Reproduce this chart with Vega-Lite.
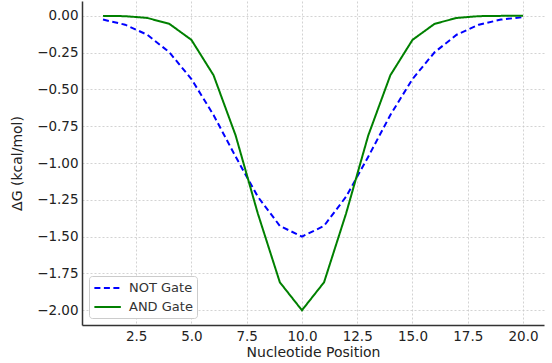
{
  "$schema": "https://vega.github.io/schema/vega-lite/v6.json",
  "width": 462,
  "height": 324,
  "autosize": {"type": "none"},
  "padding": {"left": 82, "top": 1, "right": 8, "bottom": 38},
  "background": "white",
  "config": {
    "view": {"stroke": null},
    "font": "DejaVu Sans",
    "axis": {
      "labelFont": "DejaVu Sans",
      "titleFont": "DejaVu Sans",
      "labelColor": "#222222",
      "titleColor": "#222222",
      "titleFontWeight": "normal",
      "domainColor": "#333333",
      "domainWidth": 1.5,
      "ticks": false,
      "gridColor": "#c8c8c8",
      "gridDash": [2, 2],
      "gridWidth": 0.8
    },
    "legend": {
      "title": null,
      "orient": "bottom-left",
      "offset": 7,
      "fillColor": "white",
      "strokeColor": "#cccccc",
      "cornerRadius": 3,
      "padding": 4,
      "rowPadding": 4,
      "symbolType": "M-1,0H3",
      "symbolSize": 175,
      "symbolStrokeWidth": 2,
      "labelFontSize": 13,
      "labelFont": "DejaVu Sans",
      "labelColor": "#333333",
      "labelOffset": 20
    }
  },
  "data": {
    "values": [
      {"pos": 1, "dg": -0.026, "gate": "NOT Gate"},
      {"pos": 2, "dg": -0.061, "gate": "NOT Gate"},
      {"pos": 3, "dg": -0.129, "gate": "NOT Gate"},
      {"pos": 4, "dg": -0.248, "gate": "NOT Gate"},
      {"pos": 5, "dg": -0.43, "gate": "NOT Gate"},
      {"pos": 6, "dg": -0.674, "gate": "NOT Gate"},
      {"pos": 7, "dg": -0.957, "gate": "NOT Gate"},
      {"pos": 8, "dg": -1.228, "gate": "NOT Gate"},
      {"pos": 9, "dg": -1.427, "gate": "NOT Gate"},
      {"pos": 10, "dg": -1.5, "gate": "NOT Gate"},
      {"pos": 11, "dg": -1.427, "gate": "NOT Gate"},
      {"pos": 12, "dg": -1.228, "gate": "NOT Gate"},
      {"pos": 13, "dg": -0.957, "gate": "NOT Gate"},
      {"pos": 14, "dg": -0.674, "gate": "NOT Gate"},
      {"pos": 15, "dg": -0.43, "gate": "NOT Gate"},
      {"pos": 16, "dg": -0.248, "gate": "NOT Gate"},
      {"pos": 17, "dg": -0.129, "gate": "NOT Gate"},
      {"pos": 18, "dg": -0.061, "gate": "NOT Gate"},
      {"pos": 19, "dg": -0.026, "gate": "NOT Gate"},
      {"pos": 20, "dg": -0.01, "gate": "NOT Gate"},
      {"pos": 1, "dg": -0.001, "gate": "AND Gate"},
      {"pos": 2, "dg": -0.003, "gate": "AND Gate"},
      {"pos": 3, "dg": -0.015, "gate": "AND Gate"},
      {"pos": 4, "dg": -0.055, "gate": "AND Gate"},
      {"pos": 5, "dg": -0.164, "gate": "AND Gate"},
      {"pos": 6, "dg": -0.404, "gate": "AND Gate"},
      {"pos": 7, "dg": -0.813, "gate": "AND Gate"},
      {"pos": 8, "dg": -1.341, "gate": "AND Gate"},
      {"pos": 9, "dg": -1.81, "gate": "AND Gate"},
      {"pos": 10, "dg": -2.0, "gate": "AND Gate"},
      {"pos": 11, "dg": -1.81, "gate": "AND Gate"},
      {"pos": 12, "dg": -1.341, "gate": "AND Gate"},
      {"pos": 13, "dg": -0.813, "gate": "AND Gate"},
      {"pos": 14, "dg": -0.404, "gate": "AND Gate"},
      {"pos": 15, "dg": -0.164, "gate": "AND Gate"},
      {"pos": 16, "dg": -0.055, "gate": "AND Gate"},
      {"pos": 17, "dg": -0.015, "gate": "AND Gate"},
      {"pos": 18, "dg": -0.003, "gate": "AND Gate"},
      {"pos": 19, "dg": -0.001, "gate": "AND Gate"},
      {"pos": 20, "dg": 0.0, "gate": "AND Gate"}
    ]
  },
  "mark": {"type": "line", "strokeWidth": 2, "clip": true},
  "encoding": {
    "x": {
      "field": "pos",
      "type": "quantitative",
      "scale": {"domain": [0.05, 20.95], "nice": false, "zero": false},
      "axis": {
        "title": "Nucleotide Position",
        "values": [2.5, 5, 7.5, 10, 12.5, 15, 17.5, 20],
        "format": ".1f",
        "labelFontSize": 13.5,
        "titleFontSize": 14,
        "labelPadding": 4,
        "titlePadding": 3,
        "grid": true
      }
    },
    "y": {
      "field": "dg",
      "type": "quantitative",
      "scale": {"domain": [-2.1, 0.1], "nice": false, "zero": false},
      "axis": {
        "title": "ΔG (kcal/mol)",
        "values": [-2, -1.75, -1.5, -1.25, -1, -0.75, -0.5, -0.25, 0],
        "labelExpr": "replace(format(datum.value, '.2f'), '-', '−')",
        "labelFontSize": 13.5,
        "titleFontSize": 14,
        "labelPadding": 4,
        "titlePadding": 12,
        "grid": true
      }
    },
    "color": {
      "field": "gate",
      "type": "nominal",
      "scale": {"domain": ["NOT Gate", "AND Gate"], "range": ["#0000ff", "#008000"]}
    },
    "strokeDash": {
      "field": "gate",
      "type": "nominal",
      "scale": {"domain": ["NOT Gate", "AND Gate"], "range": [[6, 3.5], [1, 0]]}
    }
  }
}
